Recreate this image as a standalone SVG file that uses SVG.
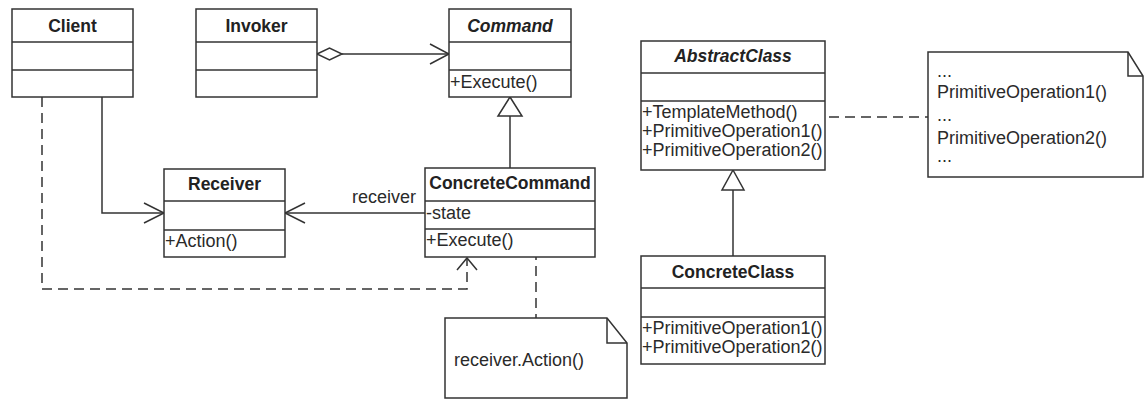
<svg xmlns="http://www.w3.org/2000/svg" width="1144" height="401" viewBox="0 0 1144 401">
<defs>
<style>
.box{fill:#fff;stroke:#333;stroke-width:1.5}
.div{stroke:#333;stroke-width:1.5}
.ln{fill:none;stroke:#333;stroke-width:1.5}
.dash{fill:none;stroke:#333;stroke-width:1.5;stroke-dasharray:10 6}
.t{font-family:"Liberation Sans",Arial,sans-serif;font-size:18px;fill:#2a2a2a}
.title{font-family:"Liberation Sans",Arial,sans-serif;font-size:17.5px;font-weight:bold;fill:#222;text-anchor:middle}
.abs{font-style:italic}
.note{fill:#fff;stroke:#333;stroke-width:1.5}
</style>
</defs>
<rect width="1144" height="401" fill="#fff"/>

<g id="connectors">
  <!-- Invoker to Command aggregation -->
  <line class="ln" x1="342" y1="54" x2="449" y2="54"/>
  <polygon points="317,54 329.5,48 342,54 329.5,60" fill="#fff" stroke="#333" stroke-width="1.5"/>
  <polyline class="ln" points="430,44 449,54 430,64"/>
  <!-- Client to Receiver -->
  <polyline class="ln" points="102,97 102,213 164,213"/>
  <polyline class="ln" points="144,203 164,213 144,223"/>
  <!-- ConcreteCommand to Receiver -->
  <line class="ln" x1="425" y1="213" x2="285" y2="213"/>
  <polyline class="ln" points="305,203 285,213 305,223"/>
  <text class="t" x="352" y="203">receiver</text>
  <!-- Client dashed to ConcreteCommand -->
  <polyline class="dash" points="42,97 42,289 467,289 467,258"/>
  <polyline class="ln" points="457,270 467,258 477,270"/>
  <!-- Command inheritance -->
  <line class="ln" x1="510" y1="168" x2="510" y2="116"/>
  <polygon points="510,97 522,116 498,116" fill="#fff" stroke="#333" stroke-width="1.5"/>
  <!-- ConcreteCommand to note -->
  <line class="dash" x1="536" y1="250" x2="536" y2="318"/>
  <!-- AbstractClass inheritance -->
  <line class="ln" x1="733" y1="256" x2="733" y2="190"/>
  <polygon points="733,170 744,190 722,190" fill="#fff" stroke="#333" stroke-width="1.5"/>
  <!-- AbstractClass to note -->
  <line class="dash" x1="813" y1="117" x2="928" y2="117"/>
</g>

<g id="Client">
  <rect class="box" x="12" y="9" width="121" height="88"/>
  <line class="div" x1="12" y1="42" x2="133" y2="42"/>
  <line class="div" x1="12" y1="70" x2="133" y2="70"/>
  <text class="title" x="72.5" y="32">Client</text>
</g>

<g id="Invoker">
  <rect class="box" x="196" y="9" width="121" height="88"/>
  <line class="div" x1="196" y1="42" x2="317" y2="42"/>
  <line class="div" x1="196" y1="70" x2="317" y2="70"/>
  <text class="title" x="256.5" y="32">Invoker</text>
</g>

<g id="Command">
  <rect class="box" x="449" y="9" width="122" height="88"/>
  <line class="div" x1="449" y1="42" x2="571" y2="42"/>
  <line class="div" x1="449" y1="70" x2="571" y2="70"/>
  <text class="title abs" x="510" y="32">Command</text>
  <text class="t" x="450" y="88">+Execute()</text>
</g>

<g id="Receiver">
  <rect class="box" x="164" y="169" width="121" height="88"/>
  <line class="div" x1="164" y1="201" x2="285" y2="201"/>
  <line class="div" x1="164" y1="230" x2="285" y2="230"/>
  <text class="title" x="224.5" y="190">Receiver</text>
  <text class="t" x="165" y="247">+Action()</text>
</g>

<g id="ConcreteCommand">
  <rect class="box" x="425" y="168" width="170" height="89"/>
  <line class="div" x1="425" y1="201" x2="595" y2="201"/>
  <line class="div" x1="425" y1="229" x2="595" y2="229"/>
  <text class="title" x="510" y="189">ConcreteCommand</text>
  <text class="t" x="426" y="219">-state</text>
  <text class="t" x="426" y="246">+Execute()</text>
</g>

<g id="Note1">
  <path class="note" d="M445,318 L607,318 L627,343 L627,398 L445,398 Z"/>
  <polyline class="ln" points="607,318 607,343 627,343"/>
  <text class="t" x="454" y="366">receiver.Action()</text>
</g>

<g id="AbstractClass">
  <rect class="box" x="641" y="41" width="184" height="129"/>
  <line class="div" x1="641" y1="73" x2="825" y2="73"/>
  <line class="div" x1="641" y1="101" x2="825" y2="101"/>
  <text class="title abs" x="733" y="62">AbstractClass</text>
  <text class="t" x="642" y="118">+TemplateMethod()</text>
  <text class="t" x="642" y="137">+PrimitiveOperation1()</text>
  <text class="t" x="642" y="156">+PrimitiveOperation2()</text>
</g>

<g id="Note2">
  <path class="note" d="M928,52 L1128,52 L1143,76 L1143,177 L928,177 Z"/>
  <polyline class="ln" points="1128,52 1128,76 1143,76"/>
  <text class="t" x="937" y="77">...</text>
  <text class="t" x="937" y="98">PrimitiveOperation1()</text>
  <text class="t" x="937" y="121">...</text>
  <text class="t" x="937" y="144">PrimitiveOperation2()</text>
  <text class="t" x="937" y="162">...</text>
</g>

<g id="ConcreteClass">
  <rect class="box" x="641" y="256" width="184" height="108"/>
  <line class="div" x1="641" y1="288" x2="825" y2="288"/>
  <line class="div" x1="641" y1="317" x2="825" y2="317"/>
  <text class="title" x="733" y="278">ConcreteClass</text>
  <text class="t" x="642" y="334">+PrimitiveOperation1()</text>
  <text class="t" x="642" y="353">+PrimitiveOperation2()</text>
</g>
</svg>
